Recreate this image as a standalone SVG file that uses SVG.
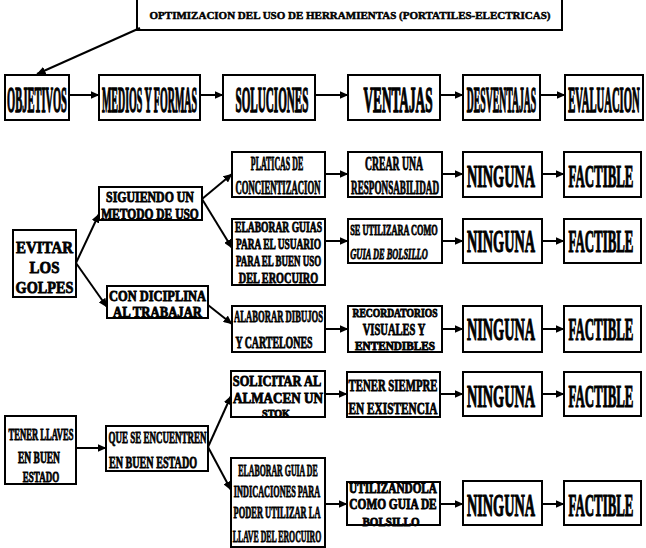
<svg xmlns="http://www.w3.org/2000/svg" width="646" height="548" viewBox="0 0 646 548">
<defs>
<marker id="ah" markerWidth="9" markerHeight="8" refX="8.5" refY="4" orient="auto" markerUnits="userSpaceOnUse">
<path d="M0,0 L9,4 L0,8 Z" fill="#000"/>
</marker>
<style>
rect{fill:#fff;stroke:#000;stroke-width:2}
text{font-family:"Liberation Serif","Times New Roman",serif;font-weight:bold;fill:#000;stroke:#000;stroke-width:0.8;text-anchor:middle}
.c line{stroke:#000;stroke-width:2;fill:none;marker-end:url(#ah)}
.h{font-size:35px;stroke-width:1.4}
.n{font-size:32px;stroke-width:1.2}
.ti{font-size:11px;stroke-width:0.5}
</style>
</defs>
<rect x="0" y="0" width="646" height="548" style="fill:#fff;stroke:none"/>

<g id="titulo"><rect x="137" y="-1" width="425" height="31"/><text class="ti" x="350" y="19">OPTIMIZACION DEL USO DE HERRAMIENTAS (PORTATILES-ELECTRICAS)</text></g>

<g id="objetivos"><rect x="5" y="75" width="64" height="45"/><text class="h" transform="translate(37,112) scale(0.2995,1)">OBJETIVOS</text></g>
<g id="medios"><rect x="99" y="75" width="101" height="45"/><text class="h" transform="translate(149.5,112) scale(0.285,1)">MEDIOS Y FORMAS</text></g>
<g id="soluciones"><rect x="223" y="75" width="92" height="45"/><text class="h" transform="translate(272,112) scale(0.318,1)">SOLUCIONES</text></g>
<g id="ventajas"><rect x="348" y="75" width="92" height="45"/><text class="h" transform="translate(398,112) scale(0.379,1)">VENTAJAS</text></g>
<g id="desventajas"><rect x="463" y="75" width="77" height="45"/><text class="h" transform="translate(501.5,112) scale(0.277,1)">DESVENTAJAS</text></g>
<g id="evaluacion"><rect x="565" y="75" width="78" height="45"/><text class="h" transform="translate(604,112) scale(0.305,1)">EVALUACION</text></g>

<g id="evitar"><rect x="13" y="230" width="63" height="67"/>
<text style="font-size:17px" transform="translate(44.5,253) scale(0.877,1)">EVITAR</text>
<text style="font-size:17px" transform="translate(44.5,273) scale(0.88,1)">LOS</text>
<text style="font-size:17px" transform="translate(44.5,293) scale(0.84,1)">GOLPES</text></g>

<g id="siguiendo"><rect x="99" y="187" width="103" height="33"/>
<text style="font-size:15px" transform="translate(150,202) scale(0.79,1)">SIGUIENDO UN</text>
<text style="font-size:15px" transform="translate(150,219) scale(0.768,1)">METODO DE USO</text></g>

<g id="disciplina"><rect x="107" y="286" width="101" height="32"/>
<text style="font-size:14.5px" transform="translate(157.5,301) scale(0.857,1)">CON DICIPLINA</text>
<text style="font-size:14.5px" transform="translate(157.5,317) scale(0.876,1)">AL TRABAJAR</text></g>

<g id="platicas"><rect x="232" y="152" width="93" height="45"/>
<text style="font-size:18px" transform="translate(277,170) scale(0.44,1)">PLATICAS DE</text>
<text style="font-size:18px" transform="translate(278,194) scale(0.483,1)">CONCIENTIZACION</text></g>

<g id="crear"><rect x="348" y="152" width="94" height="45"/>
<text style="font-size:18px" transform="translate(394,170) scale(0.54,1)">CREAR UNA</text>
<text style="font-size:18px" transform="translate(395,194) scale(0.509,1)">RESPONSABILIDAD</text></g>

<g id="ninguna1"><rect x="463" y="152" width="79" height="45"/><text class="n" transform="translate(501,187) scale(0.445,1)">NINGUNA</text></g>
<g id="factible1"><rect x="564" y="152" width="77" height="45"/><text class="n" transform="translate(601,187) scale(0.403,1)">FACTIBLE</text></g>

<g id="guias"><rect x="232" y="219" width="93" height="66"/>
<text style="font-size:15px" transform="translate(278.5,231.5) scale(0.638,1)">ELABORAR GUIAS</text>
<text style="font-size:15px" transform="translate(278.5,248.5) scale(0.629,1)">PARA EL USUARIO</text>
<text style="font-size:15px" transform="translate(278.5,266) scale(0.598,1)">PARA EL BUEN USO</text>
<text style="font-size:15px" transform="translate(278.5,283) scale(0.683,1)">DEL EROCUIRO</text></g>

<g id="utilizara"><rect x="348" y="219" width="94" height="44"/>
<text style="font-size:15px" transform="translate(394,235) scale(0.553,1)">SE UTILIZARA COMO</text>
<text style="font-size:15px;font-style:italic" transform="translate(389,259) scale(0.56,1)">GUIA DE BOLSILLO</text></g>

<g id="ninguna2"><rect x="463" y="219" width="79" height="44"/><text class="n" transform="translate(501,252) scale(0.445,1)">NINGUNA</text></g>
<g id="factible2"><rect x="564" y="219" width="77" height="44"/><text class="n" transform="translate(601,252) scale(0.403,1)">FACTIBLE</text></g>

<g id="dibujos"><rect x="232" y="306" width="93" height="46"/>
<text style="font-size:17px" transform="translate(278.5,322) scale(0.508,1)">ALABORAR DIBUJOS</text>
<text style="font-size:17px" transform="translate(274,348) scale(0.583,1)">Y CARTELONES</text></g>

<g id="recordatorios"><rect x="348" y="306" width="94" height="46"/>
<text style="font-size:12px" transform="translate(395,317) scale(0.8,1)">RECORDATORIOS</text>
<text style="font-size:16px" transform="translate(394,335) scale(0.659,1)">VISUALES Y</text>
<text style="font-size:12px" transform="translate(395,350) scale(0.937,1)">ENTENDIBLES</text></g>

<g id="ninguna3"><rect x="463" y="306" width="79" height="46"/><text class="n" transform="translate(501,340) scale(0.445,1)">NINGUNA</text></g>
<g id="factible3"><rect x="564" y="306" width="77" height="46"/><text class="n" transform="translate(601,340) scale(0.403,1)">FACTIBLE</text></g>

<g id="llaves"><rect x="5" y="416" width="71" height="68"/>
<text style="font-size:16px" transform="translate(41,440) scale(0.536,1)">TENER LLAVES</text>
<text style="font-size:16px" transform="translate(39,463) scale(0.594,1)">EN BUEN</text>
<text style="font-size:15px" transform="translate(41,482) scale(0.6,1)">ESTADO</text></g>

<g id="encuentren"><rect x="106" y="426" width="102" height="45"/>
<text style="font-size:17px" transform="translate(157.5,443) scale(0.529,1)">QUE SE ENCUENTREN</text>
<text style="font-size:17px" transform="translate(153,468) scale(0.596,1)">EN BUEN ESTADO</text></g>

<g id="solicitar"><rect x="231" y="371" width="94" height="46"/>
<text style="font-size:15px" transform="translate(277,386) scale(0.828,1)">SOLICITAR AL</text>
<text style="font-size:15px" transform="translate(278,403) scale(0.875,1)">ALMACEN UN</text>
<text style="font-size:11px" transform="translate(276,416.5) scale(0.916,1)">STOK</text></g>

<g id="siempre"><rect x="347" y="372" width="93" height="45"/>
<text style="font-size:17px" transform="translate(393,391) scale(0.634,1)">TENER SIEMPRE</text>
<text style="font-size:17px" transform="translate(393,414) scale(0.666,1)">EN EXISTENCIA</text></g>

<g id="ninguna4"><rect x="463" y="372" width="79" height="44"/><text class="n" transform="translate(501,407) scale(0.445,1)">NINGUNA</text></g>
<g id="factible4"><rect x="564" y="372" width="77" height="44"/><text class="n" transform="translate(601,407) scale(0.403,1)">FACTIBLE</text></g>

<g id="guiaindicaciones"><rect x="231" y="458" width="94" height="89"/>
<text style="font-size:17px" transform="translate(278,476) scale(0.463,1)">ELABORAR GUIA DE</text>
<text style="font-size:17px" transform="translate(277,497) scale(0.486,1)">INDICACIONES PARA</text>
<text style="font-size:17px" transform="translate(277,518) scale(0.495,1)">PODER UTILIZAR LA</text>
<text style="font-size:17px" transform="translate(277,542) scale(0.46,1)">LLAVE DEL EROCUIRO</text></g>

<g id="utilizandola"><rect x="347" y="482" width="93" height="43"/>
<text style="font-size:14px" transform="translate(393,493) scale(0.802,1)">UTILIZANDOLA</text>
<text style="font-size:14px" transform="translate(393,508.5) scale(0.815,1)">COMO GUIA DE</text>
<text style="font-size:13px" transform="translate(391,526) scale(0.848,1)">BOLSILLO</text></g>

<g id="ninguna5"><rect x="463" y="481" width="79" height="44"/><text class="n" transform="translate(501,516) scale(0.445,1)">NINGUNA</text></g>
<g id="factible5"><rect x="564" y="481" width="77" height="44"/><text class="n" transform="translate(601,516) scale(0.403,1)">FACTIBLE</text></g>

<g id="conectores" class="c">
<line x1="140" y1="28" x2="37" y2="74"/>
<line x1="69" y1="95" x2="99" y2="95"/>
<line x1="200" y1="95" x2="223" y2="95"/>
<line x1="315" y1="95" x2="348" y2="95"/>
<line x1="440" y1="95" x2="463" y2="95"/>
<line x1="540" y1="95" x2="565" y2="95"/>

<line x1="76" y1="263" x2="99" y2="214"/>
<line x1="76" y1="263" x2="107" y2="307"/>
<line x1="202" y1="199" x2="232" y2="174"/>
<line x1="202" y1="199" x2="232" y2="248"/>
<line x1="208" y1="305" x2="232" y2="324"/>

<line x1="325" y1="174" x2="348" y2="174"/>
<line x1="442" y1="174" x2="463" y2="174"/>
<line x1="542" y1="174" x2="564" y2="174"/>
<line x1="325" y1="241" x2="348" y2="241"/>
<line x1="442" y1="241" x2="463" y2="241"/>
<line x1="542" y1="241" x2="564" y2="241"/>
<line x1="325" y1="329" x2="348" y2="329"/>
<line x1="442" y1="329" x2="463" y2="329"/>
<line x1="542" y1="329" x2="564" y2="329"/>

<line x1="76" y1="448" x2="106" y2="448"/>
<line x1="208" y1="447" x2="231" y2="396"/>
<line x1="208" y1="447" x2="231" y2="490"/>
<line x1="325" y1="394" x2="347" y2="394"/>
<line x1="440" y1="394" x2="463" y2="394"/>
<line x1="542" y1="394" x2="564" y2="394"/>
<line x1="325" y1="504" x2="347" y2="504"/>
<line x1="440" y1="504" x2="463" y2="504"/>
<line x1="542" y1="504" x2="564" y2="504"/>
</g>
</svg>
